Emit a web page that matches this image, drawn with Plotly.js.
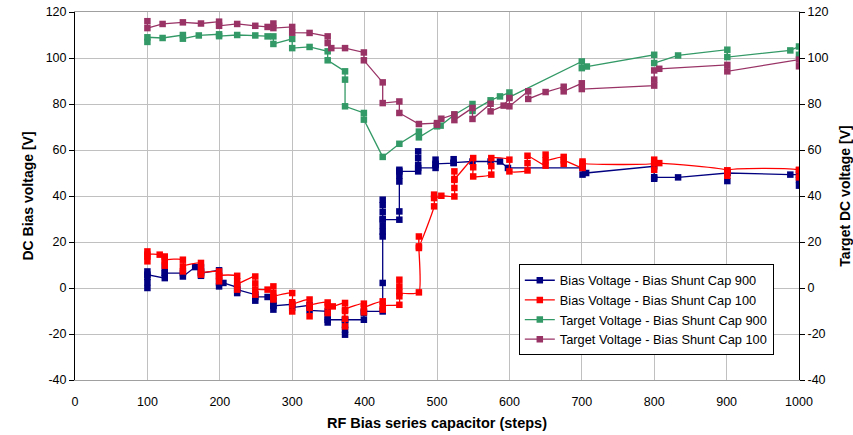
<!DOCTYPE html>
<html>
<head>
<meta charset="utf-8">
<script src="https://cdn.plot.ly/plotly-3.0.1.min.js"></script>
<style>html,body{margin:0;padding:0;background:#fff;}#chart{width:853px;height:435px;}</style>
</head>
<body>
<div id="chart"></div>
<script>
// Series names
const seriesNames = [
  "Bias Voltage - Bias Shunt Cap 900",
  "Bias Voltage - Bias Shunt Cap 100",
  "Target Voltage - Bias Shunt Cap 900",
  "Target Voltage - Bias Shunt Cap 100"
];

// Bias Voltage - Bias Shunt Cap 900 (navy)
const bias900X = [100,100,100,100,100, 124,124,124,124, 149,149, 166, 174,174,174,174, 199,199,199,199, 205, 224,224,224, 249,249,249, 266, 274,274,274,274, 300,300, 324,324, 349,349,349,349, 373,373,373,373,373, 399,399,399, 425,425,425,425,425,425,425,425,425,425, 448,448,448,448,448,448, 474,474,474,474,474, 498,498,498,498, 523,523,523, 549, 574, 587, 598, 701,701, 706, 800,800,800, 833, 901,901,901, 988, 1000,1000,1000];
const bias900Y = [0,2.5,4.8,7.2,5.8, 4.3,6.5,9.1,6.5, 6.5,5, 9.1, 9.1,7.2,5.3,6.5, 7.7,5,0.7,2.2, 2.2, 0.3,-2.2,-0.7, -2.9,-5.5,-3.9, -3.9, -5.5,-7.5,-9.4,-7.8, -7.1,-8.5, -7.5,-9.7, -10.2,-12.5,-15,-13.8, -13.8,-16,-18.2,-20.3,-13.8, -13.8,-10.9,-10.2, -10.2,2.2,22.4,24.5,27,30,33,36,38.4,29.7, 29.7,33.3,46.3,48.8,51.4,50.7, 50.7,53.5,56.5,59.4,52.2, 52.2,55.8,53.5,54, 54.3,56,54.5, 55, 55, 55, 52.2, 52.2,49.3, 50, 52.9,47.5,48.2, 48.1, 50,46.5,50, 49.3, 49.3,47,44.5];

// Bias Voltage - Bias Shunt Cap 100 (red)
const bias100X = [100,100,100,100, 117, 124,124,124,124, 149,149,149, 174,174,174,174, 199,199,199,199, 224,224,224,224, 249,249,249,249, 266, 274,274,274,274, 300,300,300,300, 324,324,324,324, 349,349,349, 356, 373,373,373,373,373, 399,399,399, 425,425,425, 448,448,448,448,448, 475,475,475,475, 496,496,496, 506, 524,524,524,524,524, 550,550,550, 575,575,575, 600,600, 625,625,625, 650,650,650, 675,675,675, 701,701,701, 800,800,800,800, 807, 901,901,901, 1000,1000,1000];
const bias100Y = [15.9,13.7,11.6,14.5, 14.5, 13.7,11.7,9.7,12, 12.3,7.2,9.4, 10.9,8.3,5.8,6.5, 7.2,5,2.9,5.3, 5.3,2.9,-0.7,1.4, 5,2,-2.9,-0.7, -0.7, 0.7,-2.2,-5,-3.9, -2.2,-6.2,-10.2,-7.3, -5,-8.6,-12.3,-7.7, -6.3,-10.9,-8, -8, -6.5,-10,-13.4,-16.7,-9.4, -6.8,-10.6,-8.7, -5.8,-9.4,-7.7, -7.3,-3.6,0.7,3.6,-1.9, -1.9,17.4,22.4,18.1, 35.5,40.6,39.1, 40.1, 39.8,43.5,47,50.7,47.4, 56.5,52.5,48.5, 49.3,53,56.5, 55.8,50.7, 51.1,54.3,57.5, 53.2,58,55.5, 57,54,55.5, 52.2,55,54.3, 54.3,55.8,51.4,54.3, 54.3, 51.1,48.8,51.1, 51.1,48.1,51.4];

// Target Voltage - Bias Shunt Cap 900 (green)
const target900X = [100,100, 121, 149,149, 171, 199,199, 224, 249, 266, 274,274, 300,300, 324, 349,349, 373,373,373, 399,399, 425, 448, 475,475, 500,505, 524, 549,549, 574, 587, 600,600, 700,700, 707, 800,800, 833, 901,901, 988, 1000,1000];
const target900Y = [107,109, 108.7, 110,108.4, 109.8, 110.3,109.5, 110, 109.8, 109.4, 109.4,106.1, 108.3,104.3, 104.8, 102.9,99, 94.2,90.6,79, 76.1,73.2, 57, 62.7, 68,65.5, 70.3,70.6, 75.3, 80,77, 81.6, 83.3, 85,83, 98.5,95.6, 96.3, 101.4,97.8, 101.1, 103.6,100.4, 103.3, 105,101.4];

// Target Voltage - Bias Shunt Cap 100 (purple)
const target100X = [100,100, 121, 149, 174, 199,199, 224, 249, 266, 274,274, 300,300, 324, 349,349, 354, 373, 399,399, 425,425, 448,448, 475, 500,500, 506, 524,524, 549,549, 574,574, 592, 600,600, 626,626, 650, 675,675, 700,700, 800,800,800, 807, 901,901, 1000,1000];
const target100Y = [116,113, 114.8, 115.5, 115, 115.8,114, 114.8, 114, 113.5, 115,113, 113.5,111, 110.9, 109.4,106.5, 104.3, 104.3, 102.4,99, 89.4,80.4, 81.1,76.1, 71.3, 71.7,71, 73.6, 75.5,73, 78.3,73.5, 80.1,76.8, 79.3, 82.6,79, 85.5,82.2, 85.2, 87.5,85.5, 89,86.5, 88,90.6,94.6, 95.3, 97,94.2, 99.3,96.4];

// Axis ticks
const xTickVals = [0,100,200,300,400,500,600,700,800,900,1000];
const yTickVals = [-40,-20,0,20,40,60,80,100,120];

const FONT = "Liberation Sans, Arial, sans-serif";
const colors = ["#000080", "#FF0000", "#339966", "#993366"];

function mk(x, y, i, yaxis, shape) {
  return {
    type: "scatter", mode: "lines+markers", x: x, y: y, name: seriesNames[i],
    yaxis: yaxis,
    line: {color: colors[i], width: 1.3, shape: shape || "linear", smoothing: 0.5},
    marker: {symbol: "square", size: 6.5, color: colors[i]}
  };
}

const data = [
  mk(bias900X, bias900Y, 0, "y"),
  mk(bias100X, bias100Y, 1, "y", "spline"),
  mk(target900X, target900Y, 2, "y2"),
  mk(target100X, target100Y, 3, "y2")
];

const layout = {
  width: 853, height: 435,
  margin: {l: 75.3, r: 54, t: 12.3, b: 54.7},
  paper_bgcolor: "#fff", plot_bgcolor: "#fff",
  font: {family: FONT, size: 12.5, color: "#000"},
  showlegend: true,
  legend: {
    x: 0.613, y: 0.314, xanchor: "left", yanchor: "top",
    bgcolor: "#fff", bordercolor: "#000", borderwidth: 1,
    font: {family: FONT, size: 12.8, color: "#000"},
    itemwidth: 30, tracegroupgap: 0
  },
  xaxis: {
    range: [0, 1000], tickvals: xTickVals, ticktext: xTickVals.map(String),
    showgrid: true, gridcolor: "#c0c0c0", gridwidth: 1,
    zeroline: false, showline: true, linecolor: "#a0a0a0", linewidth: 1, mirror: true,
    ticks: "", ticklabelstandoff: 10,
    tickfont: {family: FONT, size: 12.5, color: "#000"},
    title: {text: "<b>RF Bias series capacitor (steps)</b>", font: {family: FONT, size: 14.5, color: "#000"}, standoff: 9},
    fixedrange: true
  },
  xaxis2: {
    overlaying: "x", anchor: "free", position: 0.25, range: [0, 1000],
    tickvals: xTickVals, showticklabels: false, showgrid: false, zeroline: false,
    showline: true, linecolor: "#000", linewidth: 1, ticks: "outside", ticklen: 4, tickcolor: "#000"
  },
  yaxis: {
    range: [-40, 120], tickvals: yTickVals, ticktext: yTickVals.map(String),
    showgrid: true, gridcolor: "#c0c0c0", gridwidth: 1, zeroline: false,
    showline: true, linecolor: "#000", linewidth: 1,
    ticks: "outside", ticklen: 5, tickcolor: "#000",
    tickfont: {family: FONT, size: 12.5, color: "#000"},
    title: {text: "<b>DC Bias voltage [V]</b>", font: {family: FONT, size: 14, color: "#000"}, standoff: 8},
    fixedrange: true
  },
  yaxis2: {
    overlaying: "y", side: "right", anchor: "x",
    range: [-40, 120], tickvals: yTickVals, ticktext: yTickVals.map(String),
    showgrid: false, zeroline: false,
    showline: true, linecolor: "#000", linewidth: 1,
    ticks: "outside", ticklen: 5, tickcolor: "#000",
    tickfont: {family: FONT, size: 12.5, color: "#000"},
    title: {text: "<b>Target DC voltage [V]</b>", font: {family: FONT, size: 14, color: "#000"}, standoff: 14},
    fixedrange: true
  }
};

Plotly.newPlot("chart", data, layout, {displayModeBar: false, staticPlot: true});
</script>
</body>
</html>
